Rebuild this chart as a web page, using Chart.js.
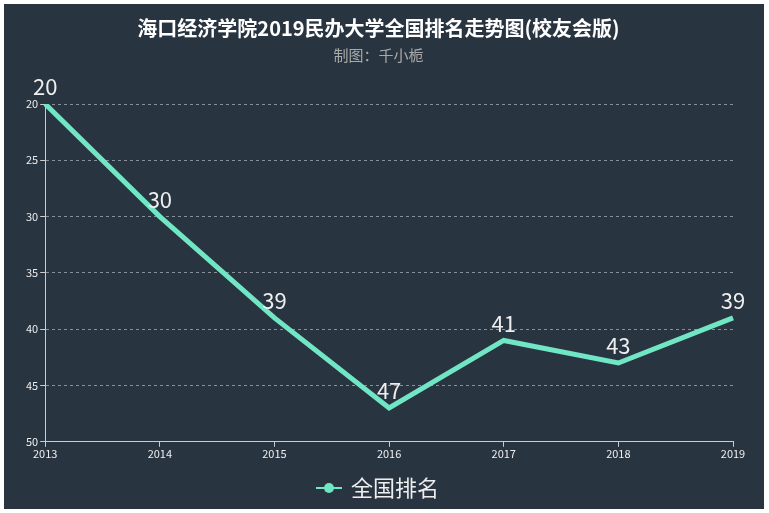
<!DOCTYPE html>
<html>
<head>
<meta charset="utf-8">
<script src="https://cdn.jsdelivr.net/npm/chart.js@4"></script>
<style>
  body { margin: 0; background: #fff; }
  #wrap { position: absolute; left: 4px; top: 4px; width: 760px; height: 505px; background: #293441; }
</style>
</head>
<body>
<div id="wrap"><canvas id="rankChart" width="760" height="505"></canvas></div>
<script>
const years = ["2013", "2014", "2015", "2016", "2017", "2018", "2019"];
const ranks = [20, 30, 39, 47, 41, 43, 39];
const seriesName = "全国排名";

const FONT = "'Noto Sans CJK SC', 'Noto Sans', sans-serif";
const LINE_COLOR = "#70e6c4";

// legend icon: short line with a dot in the middle
const legendIcon = document.createElement("canvas");
legendIcon.width = 26;
legendIcon.height = 14;
const ic = legendIcon.getContext("2d");
ic.strokeStyle = LINE_COLOR;
ic.lineWidth = 2;
ic.beginPath();
ic.moveTo(0, 7);
ic.lineTo(26, 7);
ic.stroke();
ic.fillStyle = LINE_COLOR;
ic.beginPath();
ic.arc(13, 7, 5, 0, Math.PI * 2);
ic.fill();

// draws the value above each point
const valueLabels = {
  id: "valueLabels",
  afterDatasetsDraw(chart) {
    const ctx = chart.ctx;
    const meta = chart.getDatasetMeta(0);
    ctx.save();
    ctx.fillStyle = "#eeeeee";
    ctx.font = "22px " + FONT;
    ctx.textAlign = "center";
    ctx.textBaseline = "bottom";
    meta.data.forEach((pt, i) => {
      ctx.fillText(String(ranks[i]), pt.x, pt.y - 6);
    });
    ctx.restore();
  },
};

const ctx = document.getElementById("rankChart").getContext("2d");
new Chart(ctx, {
  type: "line",
  data: {
    labels: years,
    datasets: [
      {
        label: seriesName,
        data: ranks,
        borderColor: LINE_COLOR,
        backgroundColor: LINE_COLOR,
        borderWidth: 5,
        pointRadius: 0,
        pointHoverRadius: 0,
        tension: 0,
      },
    ],
  },
  options: {
    responsive: false,
    devicePixelRatio: 1,
    animation: false,
    layout: { padding: { left: 20, right: 31, top: 0, bottom: 0 } },
    plugins: {
      title: {
        display: true,
        text: "海口经济学院2019民办大学全国排名走势图(校友会版)",
        color: "#ffffff",
        font: { family: FONT, size: 20, weight: "bold" },
        padding: { top: 12, bottom: 6 },
      },
      subtitle: {
        display: true,
        text: "制图：千小栀",
        color: "#aaaaaa",
        font: { family: FONT, size: 15 },
        padding: { top: 0, bottom: 40 },
      },
      legend: {
        position: "bottom",
        labels: {
          color: "#eeeeee",
          font: { family: FONT, size: 22 },
          usePointStyle: true,
          pointStyle: legendIcon,
          padding: 10,
        },
      },
      tooltip: { enabled: false },
    },
    scales: {
      x: {
        offset: false,
        grid: { drawOnChartArea: false, drawTicks: true, tickLength: 5, color: "#cccccc" },
        border: { color: "#cccccc", width: 1 },
        ticks: { color: "#eeeeee", font: { family: FONT, size: 11 }, maxRotation: 0, padding: 0 },
        afterFit(scale) {
          scale.height += 7; // extra room between tick labels and legend
        },
      },
      y: {
        reverse: true,
        min: 20,
        max: 50,
        grid: {
          color: "#8a9099",
          tickColor: "#cccccc",
          tickLength: 5,
          tickBorderDash: [],
        },
        border: { color: "#cccccc", width: 1, dash: [3, 3] },
        ticks: { stepSize: 5, color: "#eeeeee", font: { family: FONT, size: 11 }, padding: 2 },
      },
    },
  },
  plugins: [valueLabels],
});
</script>
</body>
</html>
